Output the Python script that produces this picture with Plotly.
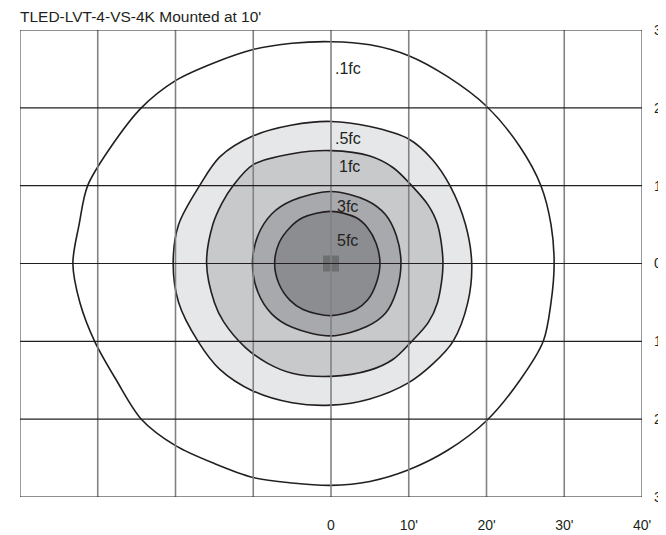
import plotly.graph_objects as go

# ---- data (feet) ----
title_text = "TLED-LVT-4-VS-4K Mounted at 10'"

x_tick_vals = [0, 10, 20, 30, 40]
x_tick_text = ["0", "10'", "20'", "30'", "40'"]
y_tick_vals = [-30, -20, -10, 0, 10, 20, 30]
y_tick_text = ["30", "20", "10", "0", "10", "20", "30"]
x_grid = [-40, -30, -20, -10, 0, 10, 20, 30, 40]
y_grid = [-30, -20, -10, 0, 10, 20, 30]

# iso-footcandle contours (clockwise from top)
fc01_x = [0, 5, 10, 15, 20, 24.3, 27.0, 28.3, 28.7, 28.3, 27.3, 24.3, 20, 15, 10, 5, 0,
          -5, -10, -15, -20, -24.4, -27.6, -30.4, -32.3, -33.2, -32.4, -31.3, -28.3, -24.4, -20, -15, -10, -5, 0]
fc01_y = [28.5, 28.1, 26.7, 24.0, 20.2, 15, 10, 5, 0, -5, -10, -15, -20.2, -24.0, -26.5, -28.0, -28.5,
          -28.2, -27.5, -25.7, -23.4, -20, -15, -10, -5, 0, 5, 10, 15, 20, 23.5, 25.8, 27.5, 28.3, 28.5]

fc05_x = [0, 5, 10, 13.0, 15.3, 17.3, 18.1, 17.6, 15.7, 13.1, 10, 5, 0,
          -5, -10, -14.3, -17.1, -19.6, -20.3, -19.6, -16.9, -14.3, -10, -5, 0]
fc05_y = [18.25, 17.6, 16.0, 13.4, 10, 5, 0, -5, -10, -12.9, -15.3, -17.4, -18.2,
          -17.9, -16.4, -13.6, -10, -5, 0, 5, 10, 13.7, 16.4, 17.8, 18.25]

fc1_x = [0, 5, 8.0, 10.2, 12.5, 13.7, 14.4, 13.7, 12.5, 10.2, 8.0, 5, 0,
         -5, -8.2, -11.0, -13.8, -15.0, -16.0, -15.2, -14.0, -12.6, -10, -5, 0]
fc1_y = [14.5, 13.8, 12.3, 10.2, 7.5, 5, 0, -5, -7.6, -10.2, -12.3, -13.7, -14.5,
         -14.1, -12.8, -10.8, -7.5, -5, 0, 5, 7.8, 10, 12.7, 14.1, 14.5]

fc3_x = [0, 4.6, 7.0, 8.4, 9.0, 8.4, 7.0, 4.6, 0, -5.0, -7.6, -9.4, -10.1, -9.4, -7.6, -5.0, 0]
fc3_y = [9.25, 8.1, 6.3, 3.6, 0, -3.6, -6.4, -8.1, -9.3, -8.2, -6.5, -3.7, 0, 3.6, 6.4, 8.1, 9.25]

fc5_x = [0, 3.2, 4.7, 5.8, 6.3, 5.8, 4.7, 3.2, 0, -3.6, -5.3, -6.7, -7.25, -6.7, -5.3, -3.6, 0]
fc5_y = [6.7, 5.9, 4.6, 2.6, 0, -2.6, -4.7, -5.9, -6.7, -5.9, -4.7, -2.6, 0, 2.6, 4.6, 5.9, 6.7]

lamp_x = [0]
lamp_y = [0]

label_text = [".1fc", ".5fc", "1fc", "3fc", "5fc"]
label_x = [0.2, 0.3, 0.8, 0.5, 0.5]
label_y = [25.0, 16.0, 12.5, 7.3, 3.0]

# ---- figure ----
LINE = "#231f20"
FONT = "Liberation Sans, Arial, sans-serif"
fig = go.Figure()

contours = [
    (fc01_x, fc01_y, "rgba(0,0,0,0)"),
    (fc05_x, fc05_y, "#e6e7e8"),
    (fc1_x, fc1_y, "#c8c9cb"),
    (fc3_x, fc3_y, "#a8a9ac"),
    (fc5_x, fc5_y, "#8c8d90"),
]
for cx, cy, col in contours:
    fig.add_trace(go.Scatter(
        x=cx, y=cy, mode="lines", fill="toself", fillcolor=col,
        line=dict(color=LINE, width=1.6, shape="spline", smoothing=0.9),
        hoverinfo="skip", showlegend=False,
    ))

fig.add_trace(go.Scatter(
    x=lamp_x, y=lamp_y, mode="markers",
    marker=dict(symbol="square", size=16, color="rgba(90,91,94,0.6)", line=dict(width=0)),
    hoverinfo="skip", showlegend=False,
))

# grid lines drawn above the fills
for gx in x_grid:
    fig.add_shape(type="line", xref="x", yref="y", x0=gx, x1=gx, y0=y_grid[0], y1=y_grid[-1],
                  line=dict(color="#808285", width=1.6), layer="above")
for gy in y_grid:
    fig.add_shape(type="line", xref="x", yref="y", x0=x_grid[0], x1=x_grid[-1], y0=gy, y1=gy,
                  line=dict(color=LINE, width=1.1), layer="above")

for t, lx, ly in zip(label_text, label_x, label_y):
    fig.add_annotation(x=lx, y=ly, text=t, showarrow=False, xanchor="left", yanchor="middle",
                       font=dict(family=FONT, size=16, color=LINE))

# the page body adds an 8px offset, so the figure is sized to fill the rest of the window
fig.update_layout(
    width=658, height=527,
    margin=dict(l=12, r=24, t=22, b=38, autoexpand=False),
    paper_bgcolor="white", plot_bgcolor="white",
    font=dict(family=FONT, size=14, color=LINE),
    title=dict(text=title_text, x=0, xref="paper", xanchor="left", y=1, yref="container",
               yanchor="top", pad=dict(t=3), font=dict(size=15.5, color=LINE)),
    xaxis=dict(range=[-40, 40], tickvals=x_tick_vals, ticktext=x_tick_text,
               showgrid=False, zeroline=False, showline=False, ticks="",
               ticklabelstandoff=18, fixedrange=True, automargin=False),
    yaxis=dict(range=[-30, 30], tickvals=y_tick_vals, ticktext=y_tick_text, side="right",
               showgrid=False, zeroline=False, showline=False, ticks="",
               ticklabelstandoff=11, fixedrange=True, automargin=False),
    showlegend=False,
)

fig.write_html("out.html")
